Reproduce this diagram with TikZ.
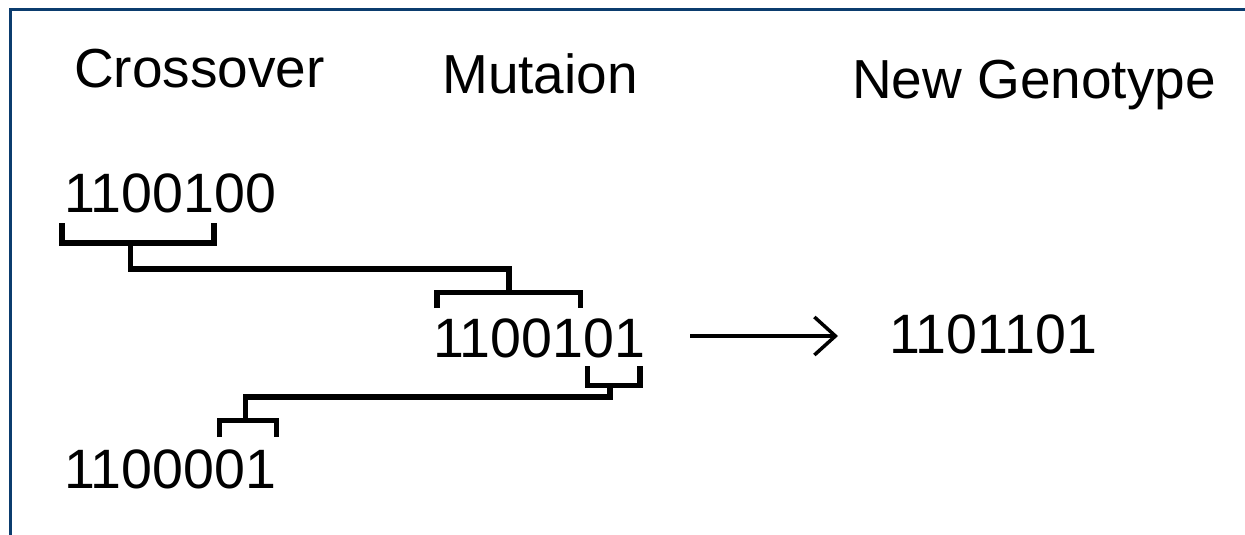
\documentclass[tikz,border=0pt]{standalone}
\usepackage{fontspec}
\setmainfont{Liberation Sans}
\usetikzlibrary{arrows.meta}
\definecolor{frameblue}{HTML}{0B3C6E}
\begin{document}
\begin{tikzpicture}[x=1pt,y=-1pt,
  lbl/.style={anchor=base west,inner sep=0pt,font=\fontsize{55}{66}\selectfont},
  bits/.style={anchor=base west,inner sep=0pt,font=\fontsize{55.5}{66}\selectfont},
  conn/.style={line width=5.5pt,line cap=butt,line join=miter},
  framesty/.style={draw=frameblue,line width=3pt}]
\useasboundingbox (0,0) rectangle (1245,535);
% frame
\coordinate (ftr) at (1245,10);
\coordinate (ftl) at (10.5,10);
\coordinate (fbl) at (10.5,535);
\draw[framesty] (ftr) -- (ftl) -- (fbl);
% headings
\node[lbl] (hc) at (74,88) {Crossover};
\node[lbl] (hm) at (442,93) {Mutaion};
\node[lbl] (hn) at (852,98) {New Genotype};
% strings
\node[bits] (p1) at (64,212) {1100100};
\node[bits] (mu) at (433,357) {1100101};
\node[bits] (p2) at (64,488) {1100001};
\node[bits] (ng) at (889,353) {1101101};
% bracket under p1
\coordinate (b1a) at (62,223);
\coordinate (b1b) at (62,243);
\coordinate (b1c) at (214,243);
\coordinate (b1d) at (214,223);
\draw[conn] (b1a) -- (b1b) -- (b1c) -- (b1d);
% link p1 -> mu
\coordinate (s1a) at (130.5,243);
\coordinate (s1b) at (130.5,269);
\coordinate (s1c) at (509,269);
\coordinate (s1d) at (509,292.5);
\draw[conn] (s1a) -- (s1b) -- (s1c) -- (s1d);
% bracket above mu
\coordinate (b2a) at (437,308);
\coordinate (b2b) at (437,292.5);
\coordinate (b2c) at (580.5,292.5);
\coordinate (b2d) at (580.5,308);
\draw[conn] (b2a) -- (b2b) -- (b2c) -- (b2d);
% bracket under mu (last two bits)
\coordinate (b3a) at (587.5,366);
\coordinate (b3b) at (587.5,385.5);
\coordinate (b3c) at (640,385.5);
\coordinate (b3d) at (640,366);
\draw[conn] (b3a) -- (b3b) -- (b3c) -- (b3d);
% link mu -> p2
\coordinate (s2a) at (610,385.5);
\coordinate (s2b) at (610,397);
\coordinate (s2c) at (245.5,397);
\coordinate (s2d) at (245.5,420.5);
\draw[conn] (s2a) -- (s2b) -- (s2c) -- (s2d);
% bracket above p2
\coordinate (b4a) at (219.5,437);
\coordinate (b4b) at (219.5,420.5);
\coordinate (b4c) at (276.5,420.5);
\coordinate (b4d) at (276.5,437);
\draw[conn] (b4a) -- (b4b) -- (b4c) -- (b4d);
% arrow
\coordinate (ar1) at (690,336);
\coordinate (ar2) at (838,336);
\draw[line width=4.5pt,-{Straight Barb[length=21pt,width=38pt,line width=3.5pt]}] (ar1) -- (ar2);
\end{tikzpicture}
\end{document}
